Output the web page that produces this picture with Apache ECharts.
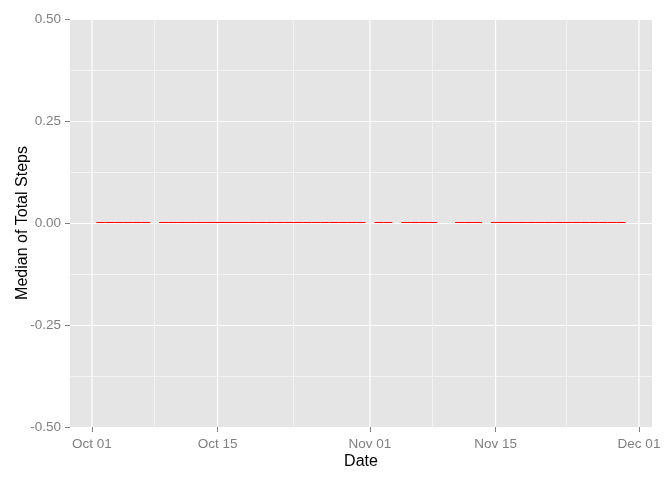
<!DOCTYPE html>
<html style="height: 100%">
  <head>
    <meta charset="UTF-8" />
    <title>Median of Total Steps</title>
    <script src="https://cdn.jsdelivr.net/npm/echarts@6/dist/echarts.min.js"></script>
  </head>
  <body style="height: 100%; margin: 0; background: #fff">
    <div id="main" style="width: 672px; height: 480px"></div>
    <script>
      // days that have a value (NA days are missing)
      const dates = [
        '2012-10-02', '2012-10-03', '2012-10-04', '2012-10-05', '2012-10-06', '2012-10-07',
        '2012-10-09', '2012-10-10', '2012-10-11', '2012-10-12', '2012-10-13', '2012-10-14',
        '2012-10-15', '2012-10-16', '2012-10-17', '2012-10-18', '2012-10-19', '2012-10-20',
        '2012-10-21', '2012-10-22', '2012-10-23', '2012-10-24', '2012-10-25', '2012-10-26',
        '2012-10-27', '2012-10-28', '2012-10-29', '2012-10-30', '2012-10-31',
        '2012-11-02', '2012-11-03',
        '2012-11-05', '2012-11-06', '2012-11-07', '2012-11-08',
        '2012-11-11', '2012-11-12', '2012-11-13',
        '2012-11-15', '2012-11-16', '2012-11-17', '2012-11-18', '2012-11-19', '2012-11-20',
        '2012-11-21', '2012-11-22', '2012-11-23', '2012-11-24', '2012-11-25', '2012-11-26',
        '2012-11-27', '2012-11-28', '2012-11-29',
      ]
      const medians = dates.map(() => 0)

      const xMajor = ['2012-10-01', '2012-10-15', '2012-11-01', '2012-11-15', '2012-12-01']
      const xMinor = ['2012-10-08', '2012-10-23 12:00', '2012-11-08', '2012-11-23']

      const DAY = 86400000
      const MONTHS = ['Jan', 'Feb', 'Mar', 'Apr', 'May', 'Jun', 'Jul', 'Aug', 'Sep', 'Oct', 'Nov', 'Dec']
      const toMs = (s) => {
        const [d, t] = s.split(' ')
        const [y, m, dd] = d.split('-').map(Number)
        const h = t ? Number(t.split(':')[0]) : 0
        return Date.UTC(y, m - 1, dd, h)
      }
      const fmt = (v) => {
        const d = new Date(v)
        return MONTHS[d.getUTCMonth()] + ' ' + String(d.getUTCDate()).padStart(2, '0')
      }
      // snap to the pixel grid so 1px lines stay crisp
      const crisp = (v) => Math.round(v) - 0.5

      const start = toMs('2012-10-01')
      const grey = '#7F7F7F'
      const font = 'Liberation Sans, Arial, sans-serif'

      const chart = echarts.init(document.getElementById('main'))

      const option = {
        animation: false,
        backgroundColor: '#fff',
        grid: {
          left: 70,
          right: 20,
          top: 19,
          bottom: 53,
          containLabel: false,
          outerBoundsMode: 'none',
          show: true,
          backgroundColor: '#E5E5E5',
          borderWidth: 0,
        },
        xAxis: {
          type: 'value',
          min: start - 2.45 * DAY,
          max: start + 62.45 * DAY,
          name: 'Date',
          nameLocation: 'middle',
          nameGap: 27,
          nameMoveOverlap: false,
          nameTextStyle: { color: '#000', fontSize: 16, fontFamily: font },
          axisLine: { show: false, onZero: false },
          axisTick: {
            show: true,
            length: 5,
            lineStyle: { color: grey },
            customValues: xMajor.map(toMs),
          },
          axisLabel: {
            color: grey,
            fontSize: 13.5,
            fontFamily: font,
            margin: 10,
            customValues: xMajor.map(toMs),
            formatter: fmt,
          },
          splitLine: { show: false },
        },
        yAxis: [
          {
            type: 'value',
            min: -0.5,
            max: 0.5,
            interval: 0.25,
            name: 'Median of Total Steps',
            nameLocation: 'middle',
            nameGap: 39,
            nameMoveOverlap: false,
            nameTextStyle: { color: '#000', fontSize: 16, fontFamily: font },
            axisLine: { show: false, onZero: false },
            axisTick: { show: true, length: 5, lineStyle: { color: grey } },
            axisLabel: {
              color: grey,
              fontSize: 13.5,
              fontFamily: font,
              margin: 9,
              formatter: (v) => v.toFixed(2),
            },
            splitLine: { show: true, lineStyle: { color: '#fff', width: 1.2 } },
          },
          {
            type: 'value',
            min: -0.5,
            max: 0.5,
            interval: 0.125,
            axisLine: { show: false, onZero: false },
            axisTick: { show: false },
            axisLabel: { show: false },
            splitLine: { show: true, lineStyle: { color: ['#FFFFFF', '#F2F2F2'], width: 1 } },
          },
        ],
        series: [
          {
            name: 'grid',
            type: 'custom',
            silent: true,
            z: 1,
            data: xMajor.map((d) => [toMs(d), 1]).concat(xMinor.map((d) => [toMs(d), 0])),
            encode: { x: 0 },
            renderItem: (params, api) => {
              const t = api.value(0)
              const major = api.value(1) === 1
              const p1 = api.coord([t, 0.5])
              const p2 = api.coord([t, -0.5])
              const x = major ? p1[0] : crisp(p1[0])
              return {
                type: 'line',
                shape: { x1: x, y1: p1[1], x2: x, y2: p2[1] },
                style: { stroke: major ? '#FFFFFF' : '#F2F2F2', lineWidth: major ? 1.2 : 1 },
              }
            },
          },
          {
            name: 'median',
            type: 'custom',
            z: 3,
            data: dates.map((d, i) => [toMs(d), medians[i]]),
            encode: { x: 0, y: 1 },
            renderItem: (params, api) => {
              const t = api.value(0)
              const v = api.value(1)
              const p1 = api.coord([t - DAY / 2, v])
              const p2 = api.coord([t + DAY / 2, v])
              const y = crisp(p1[1])
              return {
                type: 'line',
                shape: { x1: p1[0], y1: y, x2: p2[0], y2: y },
                style: { stroke: '#FF0000', lineWidth: 1 },
              }
            },
          },
        ],
      }

      chart.setOption(option)
    </script>
  </body>
</html>
